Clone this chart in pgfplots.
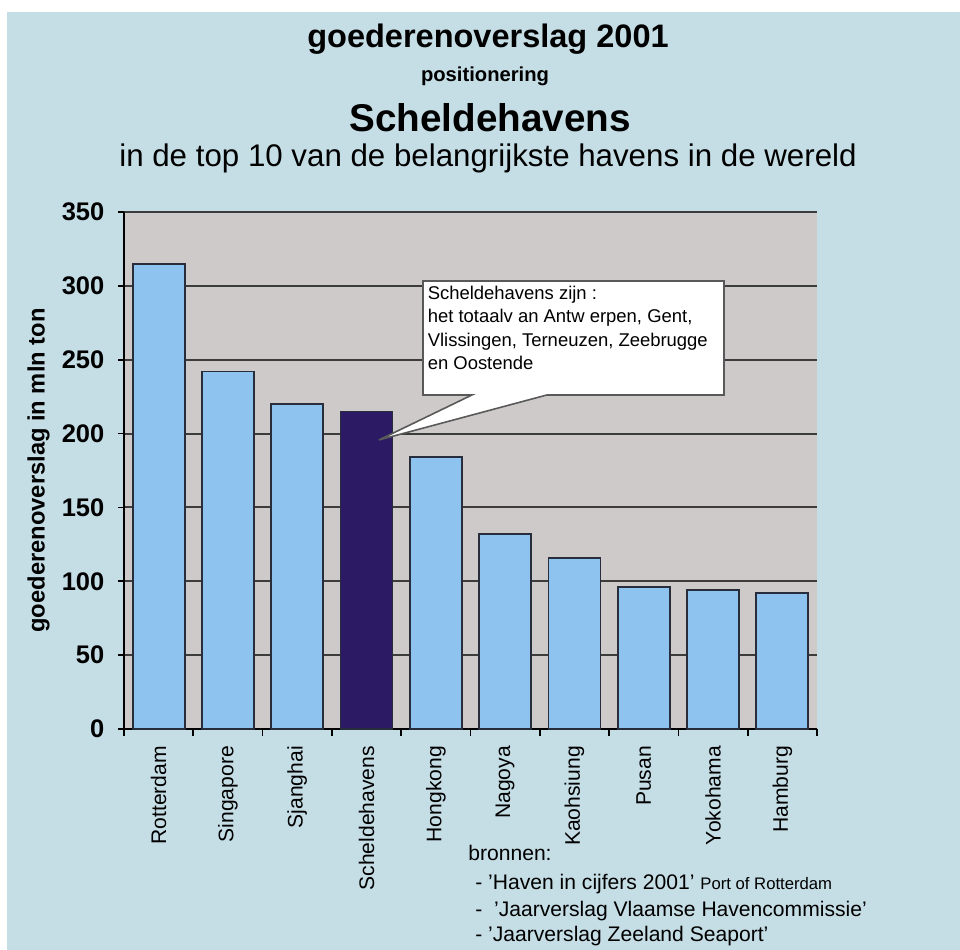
\documentclass[border=0pt]{standalone}
\usepackage{pgfplots}
\pgfplotsset{compat=1.18}
\usepackage{fontspec}
\setmainfont{Liberation Sans}
\definecolor{bgblue}{RGB}{197,221,229}
\definecolor{plotgray}{RGB}{206,202,202}
\definecolor{barblue}{RGB}{141,195,238}
\definecolor{bardark}{RGB}{45,26,100}
\definecolor{baredge}{RGB}{40,45,60}
\definecolor{gridc}{RGB}{60,60,60}
\newcommand{\fs}[1]{\fontsize{#1}{#1}\selectfont}
\begin{document}
\begin{tikzpicture}
\useasboundingbox (0,0) rectangle (19.2cm,19cm);
\fill[white] (0,0) rectangle (19.2cm,19cm);
\fill[bgblue] (0.14cm,0) rectangle (19.2cm,18.76cm);
\begin{axis}[
  at={(2.48cm,4.42cm)}, anchor=south west,
  scale only axis, width=13.86cm, height=10.34cm,
  xmin=-0.5, xmax=9.5, ymin=0, ymax=350,
  axis background/.style={fill=plotgray},
  axis lines*=left,
  axis line style={-, line width=1.3pt, black},
  ytick={0,50,...,350},
  ymajorgrids,
  major grid style={gridc, line width=1.1pt},
  tick align=outside,
  major tick length=0.12cm,
  minor tick length=0.14cm,
  ytick style={line width=1pt, black},
  xtick={0,...,9},
  xticklabels={Rotterdam,Singapore,Sjanghai,Scheldehavens,Hongkong,Nagoya,Kaohsiung,Pusan,Yokohama,Hamburg},
  major x tick style={draw=none},
  minor x tick style={black, line width=1pt},
  minor xtick={-0.5,0.5,...,9.5},
  x tick label style={rotate=90, anchor=east, font=\fs{12}},
  xticklabel shift=0.1cm,
  yticklabel style={font=\bfseries\fs{14.5}},
  yticklabel shift=0.15cm,
  /pgf/number format/assume math mode=true,
  ylabel={goederenoverslag in mln ton},
  ylabel style={font=\bfseries\fs{13.5}},
  clip=false,
]
\addplot[ybar, bar width=0.75, bar shift=0pt, fill=barblue, draw=baredge, line width=1pt]
  coordinates {(0,315) (1,242) (2,220) (4,184) (5,132) (6,116) (7,96) (8,94) (9,92)};
\addplot[ybar, bar width=0.75, bar shift=0pt, fill=bardark, draw=baredge, line width=1pt]
  coordinates {(3,215)};
\draw[fill=white, draw=black!65, line width=0.9pt]
  (axis cs:3.815,303.3) -- (axis cs:8.158,303.3) -- (axis cs:8.158,226.1)
  -- (axis cs:5.60,226.1) -- (axis cs:3.18,195.7) -- (axis cs:4.52,226.1)
  -- (axis cs:3.815,226.1) -- cycle;
\node[anchor=north west, align=left, inner xsep=2.5pt, inner ysep=3pt,
      font=\fontsize{10.5}{13.1}\selectfont] at (axis cs:3.815,303.3)
  {Scheldehavens zijn :\\het totaalv an Antw erpen, Gent,\\Vlissingen, Terneuzen, Zeebrugge\\en Oostende};
\end{axis}
\node[anchor=base, font=\bfseries\fs{18.5}] at (9.76cm,18.04cm) {goederenoverslag 2001};
\node[anchor=base, font=\bfseries\fs{11.5}] at (9.7cm,17.36cm) {positionering};
\node[anchor=base, font=\bfseries\fs{22}] at (9.8cm,16.36cm) {Scheldehavens};
\node[anchor=base, font=\fs{17.8}] at (9.76cm,15.66cm) {in de top 10 van de belangrijkste havens in de wereld};
\node[anchor=base west, inner sep=0pt, font=\fs{12}] at (9.36cm,1.78cm) {bronnen:};
\node[anchor=base west, inner sep=0pt, font=\fs{12}] at (9.5cm,1.2cm) {- 'Haven in cijfers 2001' {\fs{9.5}Port of Rotterdam}};
\node[anchor=base west, inner sep=0pt, font=\fs{12}] at (9.5cm,0.66cm) {-\ \ 'Jaarverslag Vlaamse Havencommissie'};
\node[anchor=base west, inner sep=0pt, font=\fs{12}] at (9.5cm,0.16cm) {- 'Jaarverslag Zeeland Seaport'};
\end{tikzpicture}
\end{document}
